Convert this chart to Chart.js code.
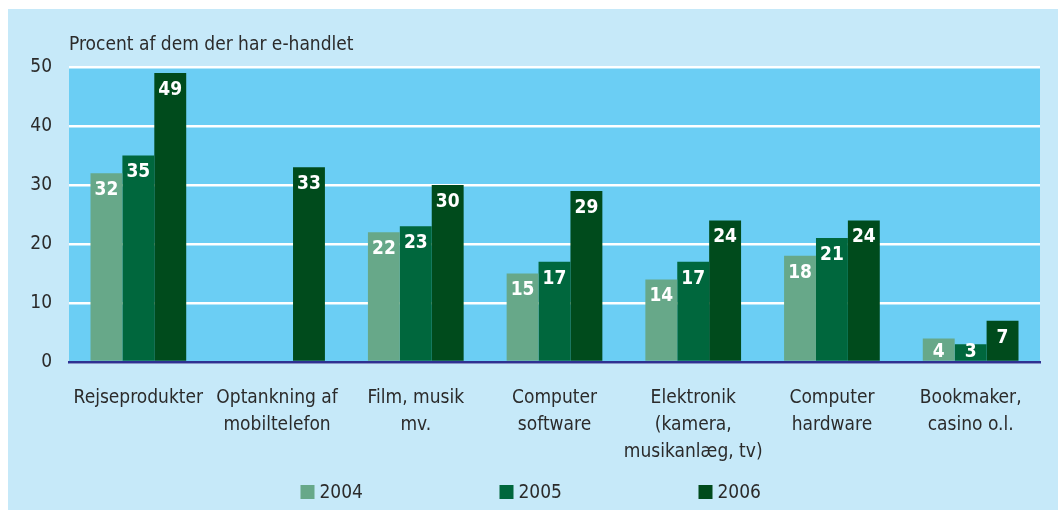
<!DOCTYPE html>
<html>
<head>
<meta charset="utf-8">
<script src="https://cdn.jsdelivr.net/npm/chart.js@4.4.0/dist/chart.umd.min.js"></script>
<style>
  html, body { margin: 0; padding: 0; background: #ffffff; }
  #wrap { position: absolute; left: 8px; top: 9px; width: 1050px; height: 501px; background: #c6e9f9; }
</style>
</head>
<body>
<div id="wrap"><canvas id="chart"></canvas></div>
<script>
let categories = [
    'Rejseprodukter',
    ['Optankning af', 'mobiltelefon'],
    ['Film, musik', 'mv.'],
    ['Computer', 'software'],
    ['Elektronik', '(kamera,', 'musikanlæg, tv)'],
    ['Computer', 'hardware'],
    ['Bookmaker,', 'casino o.l.']
];
let years = ['2004', '2005', '2006'];
let values2004 = [32, null, 22, 15, 14, 18, 4];
let values2005 = [35, null, 23, 17, 17, 21, 3];
let values2006 = [49, 33, 30, 29, 24, 24, 7];
let yTicks = [0, 10, 20, 30, 40, 50];

let font = "'Liberation Sans Narrow', 'DejaVu Sans Condensed', 'Roboto', sans-serif";
let textColor = '#2b2b2b';
let colors = ['#67a889', '#00673d', '#004b1c'];

// plot background + title + value labels + legend
let decor = {
    id: 'decor',
    beforeDraw(chart) {
        let a = chart.chartArea;
        let c = chart.ctx;
        c.save();
        c.fillStyle = '#6bcef4';
        c.fillRect(a.left, a.top, a.right - a.left, a.bottom - a.top);
        c.restore();
    },
    afterDatasetsDraw(chart) {
        let c = chart.ctx;
        let a = chart.chartArea;
        c.save();
        c.font = 'bold 19px ' + font;
        c.fillStyle = '#ffffff';
        c.textAlign = 'center';
        c.textBaseline = 'middle';
        chart.data.datasets.forEach((ds, i) => {
            chart.getDatasetMeta(i).data.forEach((bar, j) => {
                let v = ds.data[j];
                if (v === null) return;
                let y = Math.min(bar.y + 17, bar.base - 9);
                c.fillText(String(v), bar.x, y);
            });
        });
        // axis title
        c.fillStyle = textColor;
        c.font = '19px ' + font;
        c.textAlign = 'left';
        c.fillText('Procent af dem der har e-handlet', a.left, 36);
        // legend
        let mid = (a.left + a.right) / 2;
        chart.data.datasets.forEach((ds, i) => {
            let x = mid - 254 + i * 199;
            let y = 483;
            c.fillStyle = ds.backgroundColor;
            c.fillRect(x, y - 7, 14, 14);
            c.fillStyle = textColor;
            c.fillText(ds.label, x + 19, y + 1);
        });
        c.restore();
    }
};

let ctx = document.getElementById('chart').getContext('2d');
let chart = new Chart(ctx, {
    type: 'bar',
    data: {
        labels: categories,
        datasets: [
            { label: years[0], data: values2004, backgroundColor: colors[0] },
            { label: years[1], data: values2005, backgroundColor: colors[1] },
            { label: years[2], data: values2006, backgroundColor: colors[2] }
        ]
    },
    options: {
        responsive: true,
        maintainAspectRatio: false,
        animation: false,
        layout: { padding: { top: 58, right: 18, left: 0, bottom: 0 } },
        datasets: { bar: { categoryPercentage: 0.69, barPercentage: 1.0 } },
        plugins: {
            legend: { display: false },
            tooltip: { enabled: false }
        },
        scales: {
            x: {
                grid: { display: false, drawTicks: false },
                border: { display: true, color: '#2e3192', width: 2.5 },
                ticks: { color: textColor, font: { family: font, size: 19, lineHeight: 1.42 }, padding: 23, maxRotation: 0, autoSkip: false },
                afterFit(scale) { scale.height = 148; }
            },
            y: {
                min: 0,
                max: 50,
                afterBuildTicks(scale) { scale.ticks = yTicks.map(v => ({ value: v })); },
                grid: { color: '#ffffff', lineWidth: 2.5, drawTicks: false },
                border: { display: false },
                ticks: { color: textColor, font: { family: font, size: 19 }, padding: 17 },
                afterFit(scale) { scale.width = 61; }
            }
        }
    },
    plugins: [decor]
});
</script>
</body>
</html>
